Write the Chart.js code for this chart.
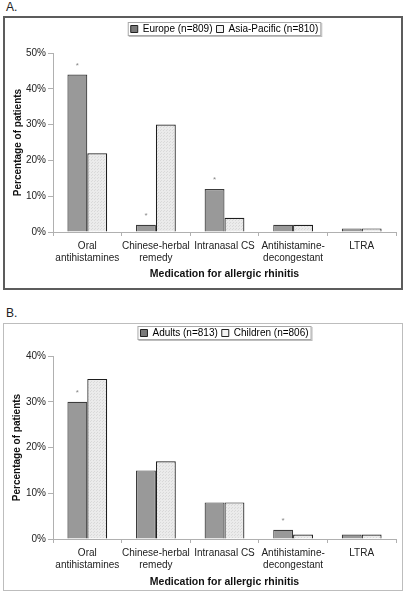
<!DOCTYPE html>
<html>
<head>
<meta charset="utf-8">
<script src="https://cdn.jsdelivr.net/npm/chart.js@4"></script>
<style>
  body { margin: 0; background: #fff; width: 405px; height: 600px; position: relative; overflow: hidden;
         font-family: "Liberation Sans", Arial, sans-serif; }
  .lbl { position: absolute; left: 6px; font-size: 12px; color: #222; }
  .panel { position: absolute; box-sizing: border-box; }
  #panelA { left: 3px; top: 16px; width: 400px; height: 274px; border: 2px solid #5c5c5c; }
  #panelB { left: 3px; top: 323px; width: 400px; height: 268px; border: 1px solid #bdbdbd; }
  canvas { display: block; }
</style>
</head>
<body>
<div class="lbl" style="top:0px">A.</div>
<div class="panel" id="panelA"><canvas id="chartA" width="396" height="270"></canvas></div>
<div class="lbl" style="top:306px">B.</div>
<div class="panel" id="panelB"><canvas id="chartB" width="398" height="266"></canvas></div>

<script>
// 카테고리
const categories = [
    ['Oral', 'antihistamines'],
    ['Chinese-herbal', 'remedy'],
    'Intranasal CS',
    ['Antihistamine-', 'decongestant'],
    'LTRA'
];

// A. 지역별
const europeLabel = 'Europe (n=809)';
const asiaLabel = 'Asia-Pacific (n=810)';
const europeValues = [44, 2, 12, 2, 1];
const asiaValues = [22, 30, 4, 2, 1];
const sigA = [true, true, true, false, false];
const ticksA = [0, 10, 20, 30, 40, 50];

// B. 연령별
const adultsLabel = 'Adults (n=813)';
const childrenLabel = 'Children (n=806)';
const adultsValues = [30, 15, 8, 2, 1];
const childrenValues = [35, 17, 8, 1, 1];
const sigB = [true, false, false, true, false];
const ticksB = [0, 10, 20, 30, 40];

const FONT = '"Liberation Sans", Arial, sans-serif';
const DARK = '#999999';

// 밝은 막대용 점무늬 패턴
function dotPattern() {
    const c = document.createElement('canvas');
    c.width = 3; c.height = 3;
    const g = c.getContext('2d');
    g.fillStyle = '#ebebeb';
    g.fillRect(0, 0, 3, 3);
    g.fillStyle = '#d9d9d9';
    g.fillRect(0, 0, 1, 1);
    g.fillRect(2, 1, 1, 1);
    return g.createPattern(c, 'repeat');
}

// 범례 테두리 + 별표
const panelPlugin = {
    id: 'panelPlugin',
    beforeInit(chart) {
        const fit = chart.legend.fit;
        chart.legend.fit = function () {
            fit.bind(this)();
            this.height += chart.options.plugins.panelPlugin.legendGap;
        };
    },
    afterDraw(chart, args, opts) {
        const ctx = chart.ctx;
        const boxes = chart.legend.legendHitBoxes;
        if (boxes && boxes.length) {
            const l = Math.min(...boxes.map(b => b.left)) - 3;
            const r = Math.max(...boxes.map(b => b.left + b.width)) + 3;
            const t = boxes[0].top - 2;
            const h = boxes[0].height + 4;
            ctx.save();
            ctx.fillStyle = '#bdbdbd';
            ctx.fillRect(l + 1, t + 1, r - l, h);
            ctx.fillStyle = '#fff';
            ctx.fillRect(l, t, r - l, h);
            ctx.strokeStyle = '#a8a8a8';
            ctx.lineWidth = 1;
            ctx.strokeRect(l + 0.5, t + 0.5, r - l - 1, h - 1);
            ctx.restore();
            chart.legend.draw();
        }
        const meta = chart.getDatasetMeta(0);
        ctx.save();
        ctx.fillStyle = '#888';
        ctx.font = '8px ' + FONT;
        ctx.textAlign = 'center';
        ctx.textBaseline = 'bottom';
        opts.sig.forEach((s, i) => {
            if (!s) return;
            const bar = meta.data[i];
            ctx.fillText('*', bar.x, bar.y - 5);
        });
        ctx.restore();
    }
};

function makeChart(canvasId, labels, values, ticks, sig, yMax, geom) {
    return new Chart(document.getElementById(canvasId), {
        type: 'bar',
        data: {
            labels: categories,
            datasets: [{
                label: labels[0],
                data: values[0],
                backgroundColor: DARK,
                borderColor: '#3c3c3c',
                borderWidth: 1.2
            }, {
                label: labels[1],
                data: values[1],
                backgroundColor: dotPattern(),
                borderColor: '#1e1e1e',
                borderWidth: 1.2
            }]
        },
        plugins: [panelPlugin],
        options: {
            responsive: false,
            animation: false,
            devicePixelRatio: 1,
            datasets: { bar: { categoryPercentage: 0.58, barPercentage: 1 } },
            layout: { padding: { top: geom.top, right: geom.right, left: 0, bottom: geom.bottom } },
            plugins: {
                panelPlugin: { sig: sig, legendGap: geom.gap },
                tooltip: { enabled: false },
                legend: {
                    position: 'top',
                    fullSize: false,
                    labels: {
                        boxWidth: 7,
                        boxHeight: 7,
                        padding: 4,
                        color: '#222',
                        font: { family: FONT, size: 10 },
                        generateLabels(chart) {
                            return chart.data.datasets.map((d, i) => ({
                                text: d.label,
                                fillStyle: i === 0 ? '#7a7a7a' : '#f2f2f2',
                                strokeStyle: '#222',
                                lineWidth: 1,
                                datasetIndex: i
                            }));
                        }
                    }
                }
            },
            scales: {
                x: {
                    afterFit(scale) { scale.height = geom.xh; },
                    border: { color: '#b0b0b0', width: 1 },
                    grid: { drawOnChartArea: false, tickLength: 4, color: '#b0b0b0', offset: true },
                    ticks: { color: '#222', padding: 4, maxRotation: 0, autoSkip: false,
                             font: { family: FONT, size: 10 } },
                    title: { display: true, text: 'Medication for allergic rhinitis', color: '#111',
                             padding: { top: 4, bottom: 0 },
                             font: { family: FONT, size: 10.5, weight: 'bold' } }
                },
                y: {
                    min: 0,
                    max: yMax,
                    afterFit(scale) { scale.width = geom.yw; },
                    afterBuildTicks(scale) { scale.ticks = ticks.map(v => ({ value: v })); },
                    border: { color: '#b0b0b0', width: 1 },
                    grid: { drawOnChartArea: false, tickLength: 5, color: '#b0b0b0' },
                    ticks: { color: '#222', padding: 2, font: { family: FONT, size: 10 },
                             callback: v => v + '%' },
                    title: { display: true, text: 'Percentage of patients', color: '#111',
                             padding: { top: 7, bottom: 4 },
                             font: { family: FONT, size: 10, weight: 'bold' } }
                }
            }
        }
    });
}

makeChart('chartA', [europeLabel, asiaLabel], [europeValues, asiaValues], ticksA, sigA, 50,
    { top: 2, right: 5, bottom: 8, gap: 9, xh: 48, yw: 48 });
makeChart('chartB', [adultsLabel, childrenLabel], [adultsValues, childrenValues], ticksB, sigB, 40,
    { top: 0, right: 6, bottom: 2, gap: 8, xh: 49, yw: 49 });
</script>
</body>
</html>
